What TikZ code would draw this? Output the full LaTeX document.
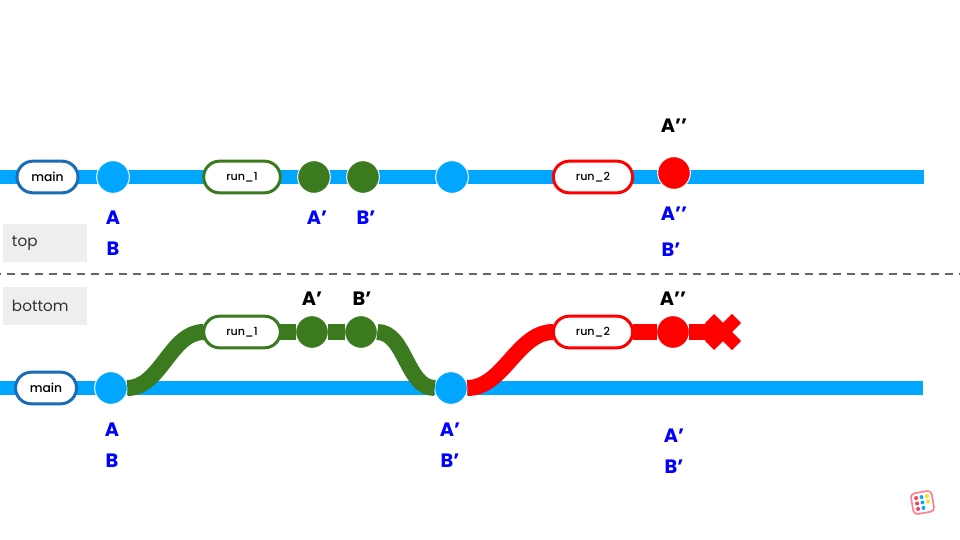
\documentclass[tikz,border=0pt]{standalone}
\usepackage{fontspec}
\setmainfont{Poppins}
\newfontfamily\pillfont{Poppins Medium}
\usetikzlibrary{positioning,shapes.misc}
\definecolor{trackblue}{HTML}{00A6FF}
\definecolor{mainblue}{HTML}{1A6DB5}
\definecolor{rungreen}{HTML}{3B7A1E}
\definecolor{runred}{HTML}{FF0000}
\definecolor{labelblue}{HTML}{0000FF}
\definecolor{tagback}{HTML}{EEEEEE}
\definecolor{badgered}{HTML}{FF3D5A}
\definecolor{badgeline}{HTML}{FF7F90}
\definecolor{badgeyellow}{HTML}{FFD91A}

\begin{document}
\begin{tikzpicture}[
            x=0.03cm, y=-0.03cm,
            commit/.style={circle, draw=white, line width=0.03cm, minimum size=0.98cm, inner sep=0pt, outer sep=0pt},
            bluecommit/.style={commit, fill=trackblue},
            greencommit/.style={commit, fill=rungreen},
            redcommit/.style={commit, fill=runred},
            pill/.style={rounded rectangle, fill=white, line width=0.09cm, minimum height=0.95cm, inner sep=0pt, outer sep=0pt, font=\fontsize{9.5}{11}\selectfont\pillfont},
            mainpill/.style={pill, draw=mainblue, minimum width=1.83cm, font=\fontsize{10.5}{12}\selectfont\pillfont},
            greenpill/.style={pill, draw=rungreen, minimum width=2.3cm},
            redpill/.style={pill, draw=runred, minimum width=2.38cm},
            tag/.style={fill=tagback, minimum width=2.52cm, minimum height=1.14cm, inner sep=0pt, text width=1.98cm, align=left, text=black!80, font=\fontsize{13}{15}\selectfont},
            bluelabel/.style={text=labelblue, inner sep=0pt, text height=0.4cm, text depth=0pt, font=\fontsize{16.5}{18}\selectfont\bfseries},
            blacklabel/.style={bluelabel, text=black},
            track/.style={line width=0.42cm, trackblue},
            greentrack/.style={line width=0.48cm, rungreen},
            redtrack/.style={line width=0.48cm, runred},
            cutline/.style={line width=0.075cm, black!60, dash pattern=on 0.255cm off 0.165cm, dash phase=0.225cm}
        ]
            \useasboundingbox (0,0) rectangle (960,540);

            % Top - track
            \coordinate (topstart) at (0,177);
            \coordinate (topend) at (924,177);
            \draw[track] (topstart) -- (topend);

            % Top - branches and commits
            \node[mainpill] (maintop) at (47.5,177) {main};
            \node[bluecommit] (atop) at (113,177) {};
            \node[greenpill] (runonetop) at (242,177) {run\_1};
            \node[greencommit] (aptop) at (314,177) {};
            \node[greencommit] (bptop) at (363,177) {};
            \node[bluecommit] (ctop) at (452,177) {};
            \node[redpill] (runtwotop) at (593,177) {run\_2};
            \node[redcommit] (apptop) at (674,173) {};

            % Top - labels
            \node[bluelabel] (la1) at (113,218) {A};
            \node[bluelabel] (lb1) at (113,249) {B};
            \node[bluelabel] (la2) at (317,218) {A’};
            \node[bluelabel] (lb2) at (366,218) {B’};
            \node[blacklabel] (la3) at (674,126) {A’’};
            \node[bluelabel] (la4) at (674,214) {A’’};
            \node[bluelabel] (lb4) at (671,250) {B’};

            % Tags and divider
            \node[tag] (tagtop) at (45,243) {top};
            \node[tag] (tagbottom) at (45,306) {bottom};
            \coordinate (cutstart) at (0,274);
            \coordinate (cutend) at (960,274);
            \draw[cutline] (cutstart) -- (cutend);

            % Bottom - track
            \coordinate (botstart) at (0,388);
            \coordinate (botend) at (923,388);
            \draw[track] (botstart) -- (botend);

            % Bottom - connectors
            \node[greenpill] (runonebot) at (242,332) {run\_1};
            \node[greencommit] (apbot) at (312,332) {};
            \node[greencommit] (bpbot) at (361,332) {};
            \node[bluecommit] (abot) at (111,388) {};
            \node[bluecommit] (cbot) at (451,388) {};
            \node[redpill] (runtwobot) at (593,332) {run\_2};
            \node[redcommit] (appbot) at (673,332) {};
            \node[cross out, draw=runred, line width=0.39cm, minimum size=0.42cm, inner sep=0pt] (crossbot) at (723,332) {};
            \draw[greentrack] (abot.east) to[out=0, in=180, looseness=0.9] (runonebot.west);
            \draw[greentrack] (bpbot.east) to[out=0, in=180, looseness=0.9] (cbot.west);
            \draw[redtrack] (cbot.east) to[out=0, in=180, looseness=0.9] (runtwobot.west);
            \draw[greentrack] (runonebot.east) -- (apbot.west);
            \draw[greentrack] (apbot.east) -- (bpbot.west);
            \draw[redtrack] (runtwobot.east) -- (appbot.west);
            \draw[redtrack] (appbot.east) -- (crossbot.center);

            % Bottom - main pill
            \node[mainpill] (mainbot) at (46,388) {main};

            % Bottom - labels
            \node[blacklabel] (la5) at (312,299) {A’};
            \node[blacklabel] (lb5) at (362,299) {B’};
            \node[blacklabel] (la6) at (673,299) {A’’};
            \node[bluelabel] (la7) at (112,430) {A};
            \node[bluelabel] (lb7) at (112,461) {B};
            \node[bluelabel] (la8) at (450,430) {A’};
            \node[bluelabel] (lb8) at (450,461) {B’};
            \node[bluelabel] (la9) at (674,436) {A’};
            \node[bluelabel] (lb9) at (674,467) {B’};

            % Corner badge
            \begin{scope}[shift={(922.5,502.5)}, rotate=10]
                \draw[draw=badgeline, fill=white, line width=0.05cm, rounded corners=0.12cm] (-10.5,-10.5) rectangle (10.5,10.5);
                \foreach \row in {-5.5,0,5.5} {
                    \fill[badgered] (-5.5,\row) circle (2);
                    \fill[trackblue] (0,\row) circle (2);
                }
                \foreach \row in {-5.5,0} {
                    \fill[badgeyellow] (5.5,\row) circle (2);
                }
            \end{scope}
        \end{tikzpicture}
\end{document}
